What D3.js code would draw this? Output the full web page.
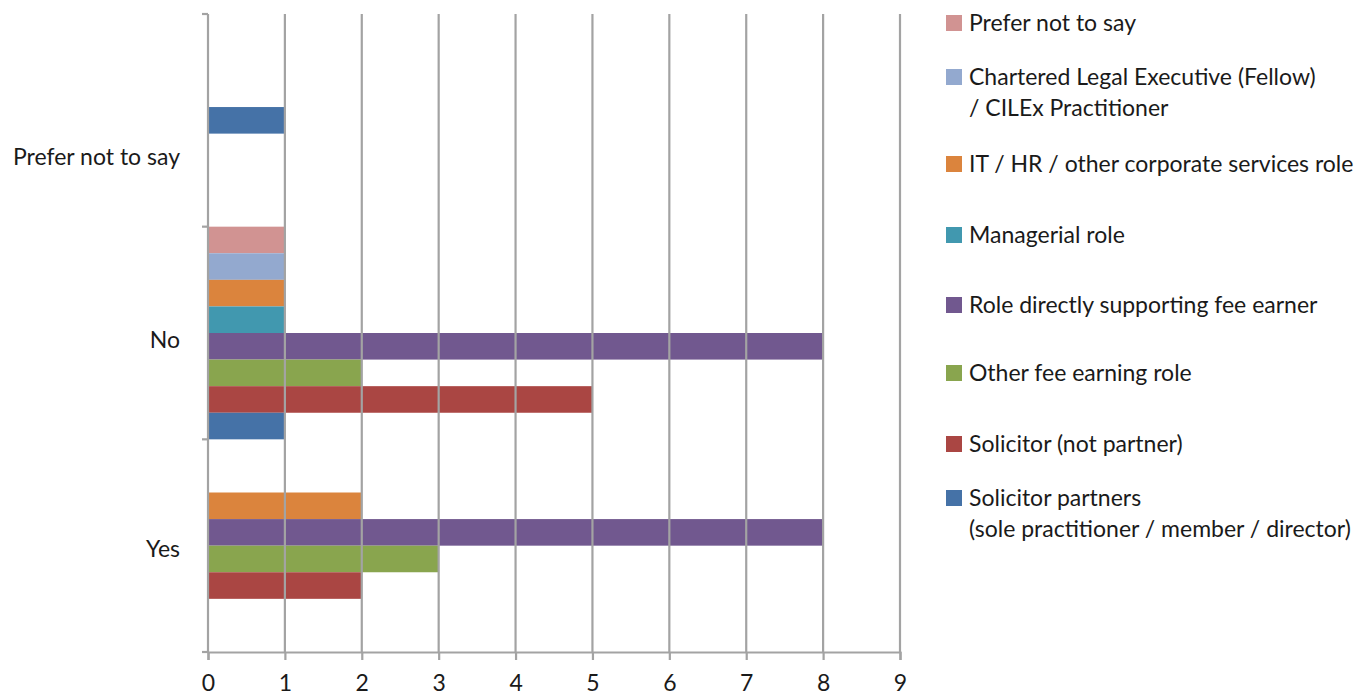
<!DOCTYPE html>
<html><head><meta charset="utf-8">
<script src="https://cdn.jsdelivr.net/npm/d3@7"></script>
<style>
html,body{margin:0;padding:0;background:#fff;}
text{font-family:Lato,"Open Sans",sans-serif;fill:#1a1a1a;}
</style></head>
<body>
<svg id="chart" width="1359" height="697"></svg>
<script>
// ---- data ----
const categories = ["Prefer not to say", "No", "Yes"];
const seriesNames = [
  "Prefer not to say",
  "Chartered Legal Executive (Fellow)\n/ CILEx Practitioner",
  "IT / HR / other corporate services role",
  "Managerial role",
  "Role directly supporting fee earner",
  "Other fee earning role",
  "Solicitor (not partner)",
  "Solicitor partners\n(sole practitioner / member / director)"
];
// values per series, in category order: Prefer not to say, No, Yes
const preferNotToSay   = [0, 1, 0];
const cilexPractitioner = [0, 1, 0];
const itHrCorporate    = [0, 1, 2];
const managerialRole   = [0, 1, 0];
const roleSupporting   = [0, 8, 8];
const otherFeeEarning  = [0, 2, 3];
const solicitorNotPartner = [0, 5, 2];
const solicitorPartners = [1, 1, 0];
const xTicks = [0,1,2,3,4,5,6,7,8,9];

const seriesValues = [preferNotToSay, cilexPractitioner, itHrCorporate, managerialRole,
  roleSupporting, otherFeeEarning, solicitorNotPartner, solicitorPartners];
const colors = ["#D19392","#93A9CF","#DB843D","#4198AF","#71588F","#89A54E","#AA4643","#4572A7"];

(function(){
// ---- layout ----
const svg = d3.select("#chart");
const pLeft = 208, pRight = 900, pTop = 14, pBottom = 652;
const fontSize = 23;
const gridColor = "#a3a3a3";

const x = d3.scaleLinear().domain([0, 9]).range([pLeft, pRight]);
const y = d3.scaleBand().domain(categories).range([pTop, pBottom]).padding(0);
const step = y.bandwidth() / seriesNames.length;

// bars: only non-zero series, centred in each category band
const bars = [];
categories.forEach((c, ci) => {
  const present = seriesNames.map((s, si) => ({s, si, v: seriesValues[si][ci]})).filter(d => d.v > 0);
  const center = y(c) + y.bandwidth() / 2;
  const start = center - present.length * step / 2;
  present.forEach((d, k) => bars.push({c, si: d.si, v: d.v, y0: start + k * step}));
});

svg.append("g").selectAll("rect").data(bars).join("rect")
  .attr("x", x(0))
  .attr("y", d => d.y0)
  .attr("width", d => x(d.v) - x(0))
  .attr("height", step)
  .attr("fill", d => colors[d.si]);

// gridlines (drawn above bars)
svg.append("g").selectAll("line").data(xTicks.slice(1)).join("line")
  .attr("x1", d => x(d)).attr("x2", d => x(d))
  .attr("y1", pTop).attr("y2", pBottom)
  .attr("stroke", gridColor).attr("stroke-width", 2.2);

// x axis
const xAxis = svg.append("g").attr("transform", `translate(0,${pBottom})`)
  .call(d3.axisBottom(x).tickValues(xTicks).tickSize(8).tickPadding(18).tickFormat(d3.format("d")));
xAxis.select(".domain").attr("stroke", gridColor).attr("stroke-width", 2.2);
xAxis.selectAll(".tick line").attr("stroke", gridColor).attr("stroke-width", 2.2);
xAxis.selectAll(".tick text").attr("font-size", fontSize).attr("font-family", "Lato,'Open Sans',sans-serif")
  .attr("fill", "#1a1a1a").attr("y", 39).attr("dy", 0);

// y axis line with ticks at band boundaries
svg.append("line").attr("x1", pLeft).attr("x2", pLeft).attr("y1", pTop).attr("y2", pBottom)
  .attr("stroke", gridColor).attr("stroke-width", 2.2);
const bounds = categories.map(c => y(c)).concat([pBottom]);
svg.append("g").selectAll("line").data(bounds).join("line")
  .attr("x1", pLeft - 6).attr("x2", pLeft).attr("y1", d => d).attr("y2", d => d)
  .attr("stroke", gridColor).attr("stroke-width", 2.2);

// category labels
const labelShift = {"Prefer not to say": 36, "No": 6, "Yes": 2};
svg.append("g").selectAll("text").data(categories).join("text")
  .attr("x", 180)
  .attr("y", c => y(c) + y.bandwidth() / 2 + labelShift[c])
  .attr("text-anchor", "end")
  .attr("dominant-baseline", "central")
  .attr("font-size", fontSize)
  .text(c => c);

// legend
const legendY = [23, 77, 164, 235, 305, 373, 444, 498];
const lg = svg.append("g").selectAll("g").data(seriesNames).join("g")
  .attr("transform", (d, i) => `translate(946,${legendY[i]})`);
lg.append("rect").attr("x", 0).attr("y", -8).attr("width", 16).attr("height", 16)
  .attr("fill", (d, i) => colors[i]);
lg.append("text").attr("x", 23).attr("y", 0).attr("font-size", fontSize)
  .selectAll("tspan").data(d => d.split("\n")).join("tspan")
  .attr("x", 23)
  .attr("dy", (d, i) => i === 0 ? "0.36em" : "31px")
  .text(d => d);
})();
</script>
</body></html>
